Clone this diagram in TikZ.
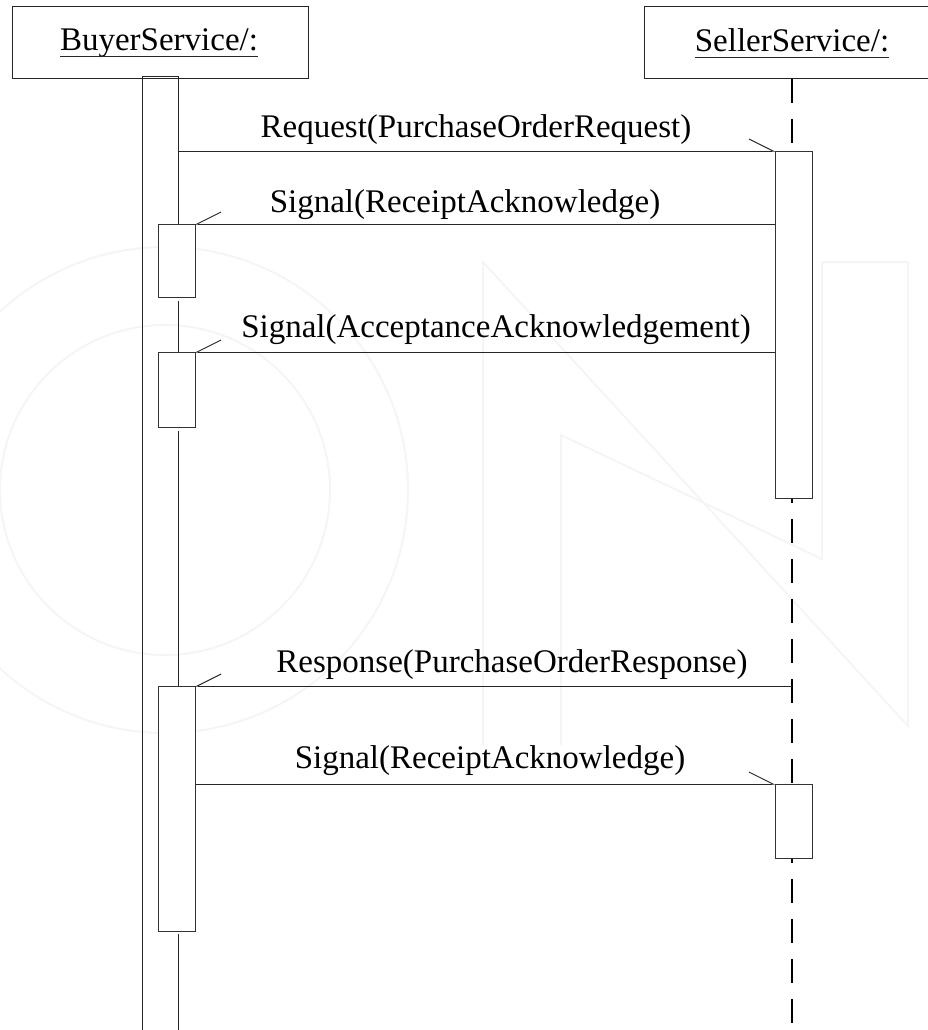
\documentclass[tikz,border=0pt]{standalone}
\usepackage{fontspec}
\setmainfont{Liberation Serif}
\usetikzlibrary{arrows.meta}
\begin{document}
\begin{tikzpicture}[x=1pt,y=-1pt,
  every node/.style={inner sep=0pt, outer sep=0pt},
  header/.style={draw=black!85, line width=1pt, fill=white,
    minimum width=296pt, minimum height=72pt},
  actbox/.style={draw=black!80, line width=1pt, fill=white, minimum width=37pt},
  lbl/.style={anchor=base, font=\fontsize{33}{40}\selectfont},
  edge/.style={draw=black!85, line width=1pt},
  toright/.style={edge, -{Straight Barb[left, length=24pt, width=24pt]}},
  toleft/.style={edge, -{Straight Barb[right, length=24pt, width=24pt]}},
  lifeline/.style={line width=2.5pt, dash pattern=on 24pt off 16pt},
  logo/.style={draw=black!4, line width=2pt}]

\useasboundingbox (0,0) rectangle (927,1030);

% faint logo in the background
\draw[logo] (165,490) circle[radius=165pt];
\draw[logo] (165,490) circle[radius=243pt];
\draw[logo] (483,745) -- (483,262) -- (908,726) -- (908,262) -- (822,262)
  -- (822,559) -- (561,435) -- (561,745);

% object headers
\node[header] (buyer) at (160,43) {};
\node[header] (seller) at (792,43) {};
\node[lbl] (buyerlbl) at (159,51) {BuyerService/:};
\node[lbl] (sellerlbl) at (792,52) {SellerService/:};
\draw[edge] ([yshift=-6pt]buyerlbl.base west) -- ([yshift=-6pt]buyerlbl.base east);
\draw[edge] ([yshift=-6pt]sellerlbl.base west) -- ([yshift=-6pt]sellerlbl.base east);

% seller lifeline
\coordinate (sellerend) at (792,1030);
\draw[lifeline] (seller.south) -- (sellerend);

% buyer lifeline: long activation bar
\coordinate (btl) at (142,77);
\coordinate (btr) at (178,77);
\coordinate (bbl) at (142,1031);
\coordinate (bbr) at (178,1031);
\draw[edge] (bbl) -- (btl) -- (btr) -- (178,224);
\draw[edge] (178,301) -- (178,352);
\draw[edge] (178,431) -- (178,686);
\draw[edge] (178,934) -- (bbr);

% activation boxes
\node[actbox, minimum height=73pt]  (bb1) at (176.5,260.5) {};
\node[actbox, minimum height=75pt]  (bb2) at (176.5,389.5) {};
\node[actbox, minimum height=245pt] (bb3) at (176.5,808.5) {};
\node[actbox, minimum height=347pt] (sa1) at (793.5,324.5) {};
\node[actbox, minimum height=74pt]  (sa2) at (793.5,821) {};

% messages
\draw[toright] (btr |- sa1.north west) -- (sa1.north west);
\draw[toleft] (bb1.north east -| sa1.west) -- (bb1.north east);
\draw[toleft] (bb2.north east -| sa1.west) -- (bb2.north east);
\draw[toleft] (bb3.north east -| seller.south) -- (bb3.north east);
\draw[toright] (bb3.east |- sa2.north west) -- (sa2.north west);

% message labels
\node[lbl] (m1) at (476,137) {Request(PurchaseOrderRequest)};
\node[lbl] (m2) at (465,212) {Signal(ReceiptAcknowledge)};
\node[lbl] (m3) at (496,337) {Signal(AcceptanceAcknowledgement)};
\node[lbl] (m4) at (512,672) {Response(PurchaseOrderResponse)};
\node[lbl] (m5) at (490,768) {Signal(ReceiptAcknowledge)};

\end{tikzpicture}
\end{document}
